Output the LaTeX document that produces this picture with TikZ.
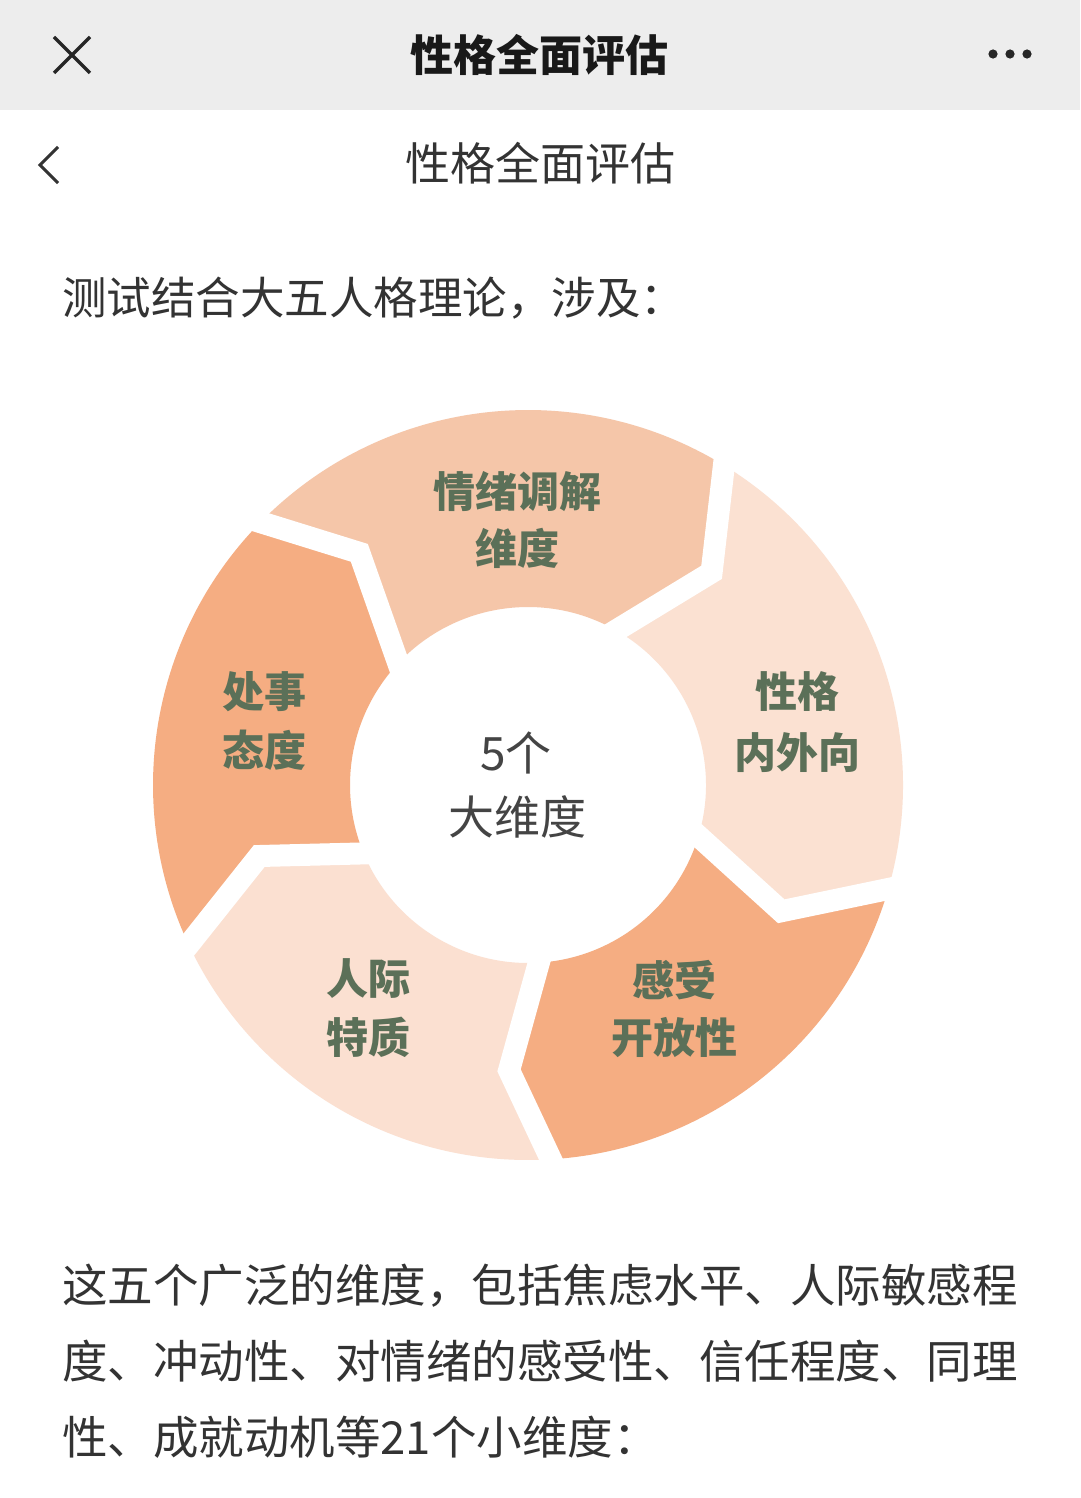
\documentclass[tikz,border=0pt]{standalone}
\usepackage{fontspec}
\setmainfont{Noto Sans CJK SC}
\usetikzlibrary{calc}
\definecolor{barbg}{HTML}{EDEDED}
\definecolor{segA}{HTML}{F5C6A9}
\definecolor{segB}{HTML}{FBE1D2}
\definecolor{segC}{HTML}{F5AD82}
\definecolor{segD}{HTML}{FBE0D1}
\definecolor{segtext}{HTML}{5B7058}
\definecolor{maintext}{HTML}{333333}
\definecolor{centertext}{HTML}{444444}
\tikzset{
  cjk/.style={inner sep=0pt, anchor=base},
  seglabel/.style={cjk, text=segtext, font=\bfseries\fontsize{42}{42}\selectfont},
  centerlabel/.style={cjk, text=centertext, font=\fontsize{46}{46}\selectfont},
  sepline/.style={draw=white, line width=22pt, line join=miter, line cap=butt},
  bodyline/.style={cjk, anchor=base west, text=maintext, font=\fontsize{45.5}{45.5}\selectfont},
}
\begin{document}
\begin{tikzpicture}[x=1pt,y=1pt]
\useasboundingbox (0,0) rectangle (1080,-1498);
\fill[white] (0,0) rectangle (1080,-1498);
% top bar
\fill[barbg] (0,0) rectangle (1080,-110);
\draw[line width=3.2pt, black!85] (54,-37) -- (90,-73) (90,-37) -- (54,-73);
\fill[black!85] (993,-54) circle (4.6) (1010,-54) circle (4.6) (1027,-54) circle (4.6);
\node[cjk, font=\bfseries\fontsize{43}{43}\selectfont, text=black!90] (bartitle) at (539,-71.3) {性格全面评估};
% second header
\draw[line width=3pt, maintext] (58,-147) -- (40,-165) -- (58,-183);
\node[cjk, font=\fontsize{45}{45}\selectfont, text=maintext] (pagetitle) at (540,-181) {性格全面评估};
% intro
\node[bodyline, font=\fontsize{44.5}{44.5}\selectfont] (intro) at (62,-314) {测试结合大五人格理论，涉及：};
% ring
\begin{scope}[shift={(528,-785)}]
\fill[segA] (135.5:375) arc[start angle=135.5, end angle=58.5, radius=375] -- (49.2:281) -- (60.3:178) arc[start angle=60.3, end angle=136.8, radius=178] -- (126:287) -- cycle;
\fill[segB] (58.5:375) arc[start angle=58.5, end angle=-16.1, radius=375] -- (-26.5:283) -- (-16.7:178) arc[start angle=-16.7, end angle=60.3, radius=178] -- (49.2:281) -- cycle;
\fill[segC] (-16.1:375) arc[start angle=-16.1, end angle=-86.5, radius=375] -- (-93.8:286) -- (-86.5:178) arc[start angle=-86.5, end angle=-16.7, radius=178] -- (-26.5:283) -- cycle;
\fill[segD] (-86.5:375) arc[start angle=-86.5, end angle=-154.8, radius=375] -- (-165.2:278) -- (-157.4:178) arc[start angle=-157.4, end angle=-86.5, radius=178] -- (-93.8:286) -- cycle;
\fill[segC] (-154.8:375) arc[start angle=-154.8, end angle=-224.5, radius=375] -- (-234:287) -- (-223.2:178) arc[start angle=-223.2, end angle=-157.4, radius=178] -- (-165.2:278) -- cycle;
% separators
\draw[sepline] ($(126:287)!1.3!(135.5:375)$) -- (135.5:375) -- (126:287) -- (136.8:178) -- ($(126:287)!1.3!(136.8:178)$);
\draw[sepline] ($(49.2:281)!1.3!(58.5:375)$) -- (58.5:375) -- (49.2:281) -- (60.3:178) -- ($(49.2:281)!1.3!(60.3:178)$);
\draw[sepline] ($(-26.5:283)!1.3!(-16.1:375)$) -- (-16.1:375) -- (-26.5:283) -- (-16.7:178) -- ($(-26.5:283)!1.3!(-16.7:178)$);
\draw[sepline] ($(-93.8:286)!1.3!(-86.5:375)$) -- (-86.5:375) -- (-93.8:286) -- (-86.5:178) -- ($(-93.8:286)!1.3!(-86.5:178)$);
\draw[sepline] ($(-165.2:278)!1.3!(-154.8:375)$) -- (-154.8:375) -- (-165.2:278) -- (-157.4:178) -- ($(-165.2:278)!1.3!(-157.4:178)$);
\end{scope}
% labels
\node[seglabel] (emo1) at (517,-507) {情绪调解};
\node[seglabel] (emo2) at (517,-564) {维度};
\node[seglabel] (ext1) at (797,-707) {性格};
\node[seglabel] (ext2) at (797,-768) {内外向};
\node[seglabel] (opn1) at (674,-996) {感受};
\node[seglabel] (opn2) at (674,-1053) {开放性};
\node[seglabel] (int1) at (368,-994) {人际};
\node[seglabel] (int2) at (368,-1053) {特质};
\node[seglabel] (con1) at (264,-707) {处事};
\node[seglabel] (con2) at (264,-766) {态度};
\node[centerlabel] (core1) at (516,-770.5) {5个};
\node[centerlabel] (core2) at (517,-834.5) {大维度};
% paragraph
\node[bodyline] (p1) at (62,-1302.3) {这五个广泛的维度，包括焦虑水平、人际敏感程};
\node[bodyline] (p2) at (62,-1378.3) {度、冲动性、对情绪的感受性、信任程度、同理};
\node[bodyline] (p3) at (62,-1454.3) {性、成就动机等21个小维度：};
\end{tikzpicture}
\end{document}
